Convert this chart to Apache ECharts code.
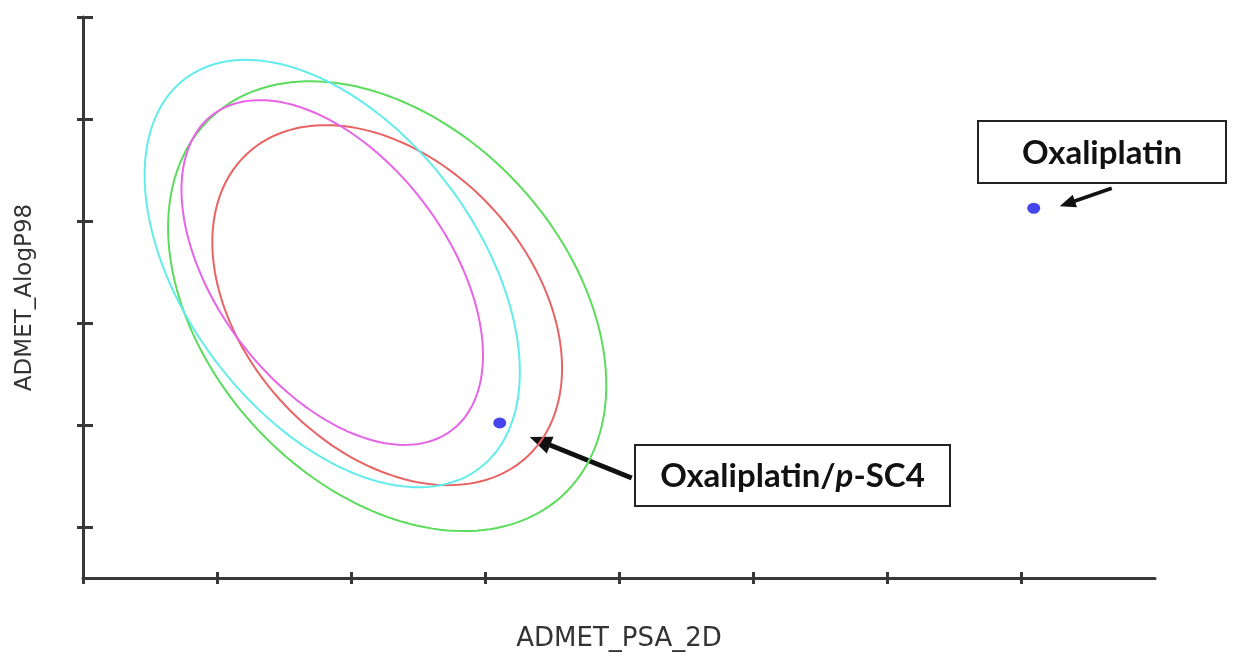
<!DOCTYPE html>
<html>
<head>
<meta charset="utf-8">
<title>ADMET plot</title>
<script src="https://cdn.jsdelivr.net/npm/echarts@6/dist/echarts.min.js"></script>
<style>
  html, body { margin: 0; padding: 0; background: #fff; }
  #chart { width: 1243px; height: 660px; }
</style>
</head>
<body>
<div id="chart"></div>
<script>
// tick positions (no labels shown in the plot)
const xTicks = [0, 20, 40, 60, 80, 100, 120, 140]
const yTicks = [-2, 0, 2, 4, 6, 8]

// confidence ellipses: [centre PSA, centre AlogP, half width, half height, correlation]
const absorb95 = [45.4, 2.35, 26.1, 3.53, -0.35]   // red
const absorb99 = [45.4, 2.33, 32.7, 4.41, -0.35]   // green
const bbb95 = [37.2, 2.99, 22.5, 3.38, -0.48]      // magenta
const bbb99 = [37.2, 2.97, 28.0, 4.19, -0.46]      // cyan

// compounds
const compoundNames = ['Oxaliplatin/p-SC4', 'Oxaliplatin']
const psa = [62.2, 141.9]
const alogp = [0.04, 4.25]

const chart = echarts.init(document.getElementById('chart'))

function renderEllipse (params, api) {
  const cx = api.value(0)
  const cy = api.value(1)
  const sx = api.value(2)
  const sy = api.value(3)
  const r = api.value(4)
  const k = Math.sqrt(1 - r * r)
  const pts = []
  for (let i = 0; i <= 180; i++) {
    const t = i / 180 * Math.PI * 2
    pts.push(api.coord([cx + sx * Math.cos(t), cy + sy * (r * Math.cos(t) + k * Math.sin(t))]))
  }
  return {
    type: 'polyline',
    shape: { points: pts },
    style: { stroke: api.visual('color'), lineWidth: 2, fill: null }
  }
}

function ellipseSeries (name, params, color) {
  return {
    name: name,
    type: 'custom',
    renderItem: renderEllipse,
    dimensions: ['cx', 'cy', 'sx', 'sy', 'r'],
    encode: { x: 0, y: 1 },
    itemStyle: { color: color },
    silent: true,
    data: [params]
  }
}

const axisColor = '#383838'

function xAxisBase (inside) {
  return {
    type: 'value',
    min: 0,
    max: 160,
    interval: 20,
    position: 'bottom',
    offset: 0,
    axisLine: { show: !inside, onZero: false, lineStyle: { color: axisColor, width: 3 } },
    axisTick: { show: true, inside: inside, length: 6, customValues: xTicks, lineStyle: { color: axisColor, width: 3 } },
    axisLabel: { show: false },
    splitLine: { show: false }
  }
}

function yAxisBase (inside) {
  return {
    type: 'value',
    min: -3,
    max: 8,
    interval: 1,
    position: 'left',
    offset: 0,
    axisLine: { show: !inside, onZero: false, lineStyle: { color: axisColor, width: 3 } },
    axisTick: { show: true, inside: inside, length: inside ? 10 : 6, customValues: yTicks, lineStyle: { color: axisColor, width: 3 } },
    axisLabel: { show: false },
    splitLine: { show: false }
  }
}

const xMain = xAxisBase(false)
xMain.name = 'ADMET_PSA_2D'
xMain.nameLocation = 'middle'
xMain.nameGap = 48
xMain.nameTextStyle = { fontFamily: 'DejaVu Sans', fontSize: 26, color: '#333' }

const yMain = yAxisBase(false)
yMain.name = 'ADMET_AlogP98'
yMain.nameLocation = 'middle'
yMain.nameGap = 46
yMain.nameTextStyle = { fontFamily: 'DejaVu Sans', fontSize: 23, color: '#333' }

chart.setOption({
  backgroundColor: '#fff',
  animation: false,
  grid: { left: 83, right: 88, top: 17, bottom: 82 },
  xAxis: [xMain, xAxisBase(true)],
  yAxis: [yMain, yAxisBase(true)],
  series: [
    ellipseSeries('Absorption 99%', absorb99, '#5cdc5c'),
    ellipseSeries('Absorption 95%', absorb95, '#e86464'),
    ellipseSeries('BBB 99%', bbb99, '#62ecec'),
    ellipseSeries('BBB 95%', bbb95, '#e664e6'),
    {
      name: 'Compounds',
      type: 'scatter',
      symbol: 'circle',
      symbolSize: [13, 11],
      itemStyle: { color: '#1616e8' },
      data: psa.map((v, i) => ({ name: compoundNames[i], value: [v, alogp[i]] }))
    }
  ]
})

// annotations: labelled boxes with arrows pointing at the compounds
function arrow (from, to, width, headLen, headW) {
  const dx = to[0] - from[0]
  const dy = to[1] - from[1]
  const len = Math.hypot(dx, dy)
  const ux = dx / len
  const uy = dy / len
  const bx = to[0] - ux * headLen
  const by = to[1] - uy * headLen
  const nx = -uy
  const ny = ux
  return [
    { type: 'line', shape: { x1: from[0], y1: from[1], x2: bx + ux * 3, y2: by + uy * 3 }, style: { stroke: '#111', lineWidth: width } },
    {
      type: 'polygon',
      shape: { points: [to, [bx + nx * headW / 2, by + ny * headW / 2], [bx - nx * headW / 2, by - ny * headW / 2]] },
      style: { fill: '#111' }
    }
  ]
}

const labelFont = { fontFamily: 'Lato', fontWeight: 'bold', fontSize: 33, fill: '#111' }

function box (x, y, w, h, text, rich) {
  return [
    { type: 'rect', shape: { x: x, y: y, width: w, height: h }, style: { fill: '#fff', stroke: '#222', lineWidth: 2 } },
    {
      type: 'text',
      x: x + w / 2,
      y: y + h / 2 + 1,
      style: Object.assign({ text: text, align: 'center', verticalAlign: 'middle', rich: rich }, labelFont)
    }
  ]
}

const p1 = chart.convertToPixel({ gridIndex: 0 }, [psa[0], alogp[0]])
const p2 = chart.convertToPixel({ gridIndex: 0 }, [psa[1], alogp[1]])

const rich = {
  n: labelFont,
  i: Object.assign({}, labelFont, { fontStyle: 'italic' })
}

chart.setOption({
  graphic: [].concat(
    arrow([p1[0] + 132, p1[1] + 55], [p1[0] + 30, p1[1] + 14], 5, 22, 18),
    arrow([p2[0] + 78, p2[1] - 20], [p2[0] + 26, p2[1] - 2], 3.5, 16, 13),
    box(635, 445, 315, 61, '{n|Oxaliplatin/}{i|p}{n|-SC4}', rich),
    box(978, 121, 248, 62, '{n|Oxaliplatin}', rich)
  )
})
</script>
</body>
</html>
